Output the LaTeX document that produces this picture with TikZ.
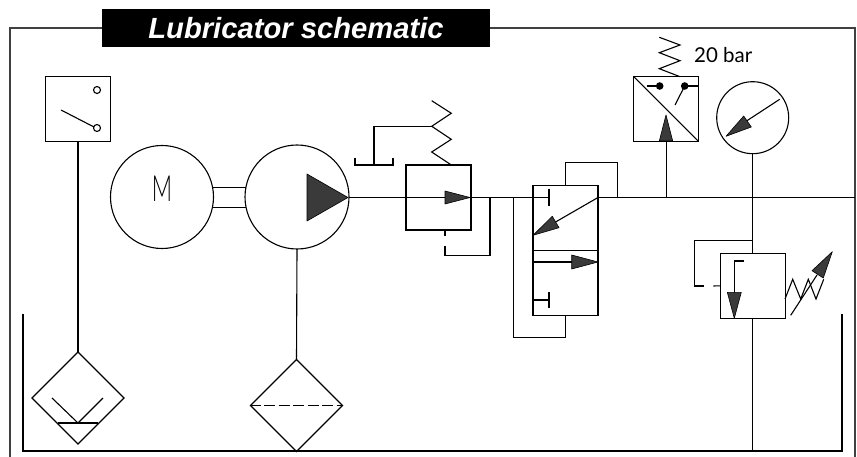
\documentclass[tikz,border=0pt]{standalone}
\usepackage{fontspec}
\setmainfont{Liberation Sans}
\newfontfamily\labelfont{Lato}
\newfontfamily\motorfont{Lato Light}
\usetikzlibrary{shapes.geometric}
\usetikzlibrary{calc,positioning}

\definecolor{framegray}{HTML}{404040}
\definecolor{tipgray}{HTML}{3A3A3A}

\tikzset{
    line/.style = {line width = 1.1pt, black},
    framing/.style = {line width = 1.6pt, framegray},
    box/.style = {draw, line, rectangle, inner sep = 0pt, outer sep = 0pt, minimum width = 65pt, minimum height = 65pt},
    round/.style = {draw, line, circle, inner sep = 0pt, outer sep = 0pt},
    conditioner/.style = {draw, line, diamond, aspect = 1, inner sep = 0pt, outer sep = 0pt, minimum width = 92pt, minimum height = 92pt},
    tip/.style = {fill = tipgray, draw = black, line width = 0.6pt, line join = round},
}

\begin{document}
\begin{tikzpicture}[x = 1pt, y = -1pt]

    \useasboundingbox (0,0) rectangle (857,457);

    % frame and tank
    \draw[framing] (10,457) -- (10,28) -- (855,28) -- (855,457);
    \draw[line] (23,314) -- (23,451) -- (842,451) -- (842,314);

    % title
    \node[fill = black, text = white, inner sep = 0pt, minimum width = 388pt, minimum height = 38pt] (title) at (296,28)
        {\fontsize{29.2}{29.2}\selectfont\bfseries\itshape Lubricator schematic};

    % left branch
    \node[box] (switch) at (78,109) {};
    \node[conditioner] (filter) at (78,398) {};
    \draw[line] (switch.south) -- (filter.north);
    \draw[line] (61,110) -- (94,127);
    \draw[line, fill = white] (97,90) circle (3.5);
    \draw[line, fill = white] (97,128) circle (3.5);
    \draw[line] (52,398) -- (78,423) -- (103,398);
    \draw[line] (58,423) -- (98,423);

    % motor and pump
    \node[round, minimum size = 103pt] (motor) at (162,197) {};
    \node[xscale = 0.62, font = \motorfont\fontsize{36}{36}\selectfont] (M) at (162,189) {M};
    \node[round, minimum size = 104pt] (pump) at (297,197) {};
    \node[conditioner] (strainer) at (296.5,405.5) {};
    \draw[line] ($(motor.east)+(-1,-9.7)$) -- ($(pump.west)+(1,-9.7)$);
    \draw[line] ($(motor.east)+(-1,10.5)$) -- ($(pump.west)+(1,10.5)$);
    \draw[tip] (307,174) -- (348,197.5) -- (307,221) -- cycle;
    \draw[line] (pump.south) -- (strainer.north);
    \draw[line, dash pattern = on 11pt off 3.5pt, dash phase = 1pt] (strainer.west) -- (strainer.east);

    % main line
    \coordinate (end) at (855,197.5);
    \coordinate (stop) at (549,197.5);
    \draw[line] (pump.east |- stop) -- (stop);
    \draw[line, line width = 1.7pt] (367,197.5) -- (378,197.5);

    % relief valve
    \node[box] (relief) at (438.5,197.5) {};
    \draw[tip] (445,191) -- (470,197.5) -- (445,204) -- cycle;
    \draw[line] (451.3,165) -- (431.7,152) -- (451.3,139.3) -- (431.7,126.3) -- (451.3,113.3) -- (431.7,100.7);
    \draw[line] (431.7,126.3) -- (374,126.3) -- (374,165);
    \draw[line] (355,158) -- (355,165) -- (393,165) -- (393,158);
    \draw[line] (445,230) -- (445,236);
    \draw[line] (445,246) -- (445,255.7) -- (490,255.7) -- (490,197.5);

    % directional valve
    \node[box, minimum height = 129.5pt] (valve) at (565.5,250.5) {};
    \draw[line] (valve.west |- 0,250.3) -- (valve.east |- 0,250.3);
    \draw[line] (valve.east |- end) -- (end);
    \draw[line] (549,189) -- (549,205.7);
    \draw[line] (valve.east |- end) -- (546,227.5);
    \draw[tip] (533,235.3) -- (552.3,216.3) -- (559,227.7) -- cycle;
    \draw[line] (533,262) -- (575,262);
    \draw[tip] (571.7,255) -- (598,262) -- (571.7,269) -- cycle;
    \draw[line] (533,300) -- (549,300);
    \draw[line] (549,292) -- (549,308);
    \draw[line] (valve.north) -- (565.5,162.7) -- (617.3,162.7) -- (617.3,197.5);
    \draw[line] (valve.south) -- (565.5,337.7) -- (513.7,337.7) -- (513.7,197.5);

    % pressure switch
    \node[box] (pswitch) at (666.2,109) {};
    \draw[line] (pswitch.north west) -- (pswitch.south east);
    \draw[tip] (666,115) -- (672.7,141) -- (659.3,141) -- cycle;
    \draw[line] (646.7,86) -- (659.7,86);
    \draw[line] (684.7,86) -- (pswitch.east |- 0,86);
    \draw[line] (684.7,86) -- (675,105);
    \fill (659.7,86) circle (3.8);
    \fill (684.7,86) circle (3.8);
    \draw[line] (680,76.7) -- (659.3,68.7) -- (680,60.7) -- (659.3,52.7) -- (680,45) -- (659.3,37.3);
    \node[anchor = base west, inner sep = 0pt, font = \labelfont\fontsize{20.5}{20.5}\selectfont] (setting) at (694,62.3) {20 bar};
    \draw[line] (pswitch.south) -- (pswitch.south |- end);

    % gauge
    \node[round, minimum size = 72pt] (gauge) at (752.7,117.7) {};
    \draw[line] (779.7,99.3) -- (745,122);
    \draw[tip] (726,136.3) -- (743.7,116) -- (751.3,127) -- cycle;

    % reducing valve
    \node[box] (reducer) at (752.7,285.8) {};
    \draw[line] (gauge.south) -- (reducer.north);
    \draw[line] (reducer.south) -- (752.7,451);
    \draw[line] (752.7,240.7) -- (694.3,240.7) -- (694.3,286) -- (704.3,286);
    \draw[line] (713.3,286) -- (reducer.west);
    \draw[line] (744.3,261) -- (734.3,261) -- (734.3,295);
    \draw[tip] (727.3,292.3) -- (741.3,292.3) -- (734.3,318.3) -- cycle;
    \draw[line] (785,299) -- (792.7,279.3) -- (800.7,299) -- (808.3,279.3) -- (816,299) -- (823.7,279.3);
    \draw[line] (790.7,315.3) -- (817,275);
    \draw[tip] (832.3,251.7) -- (812,270.7) -- (823.3,278) -- cycle;

\end{tikzpicture}
\end{document}
